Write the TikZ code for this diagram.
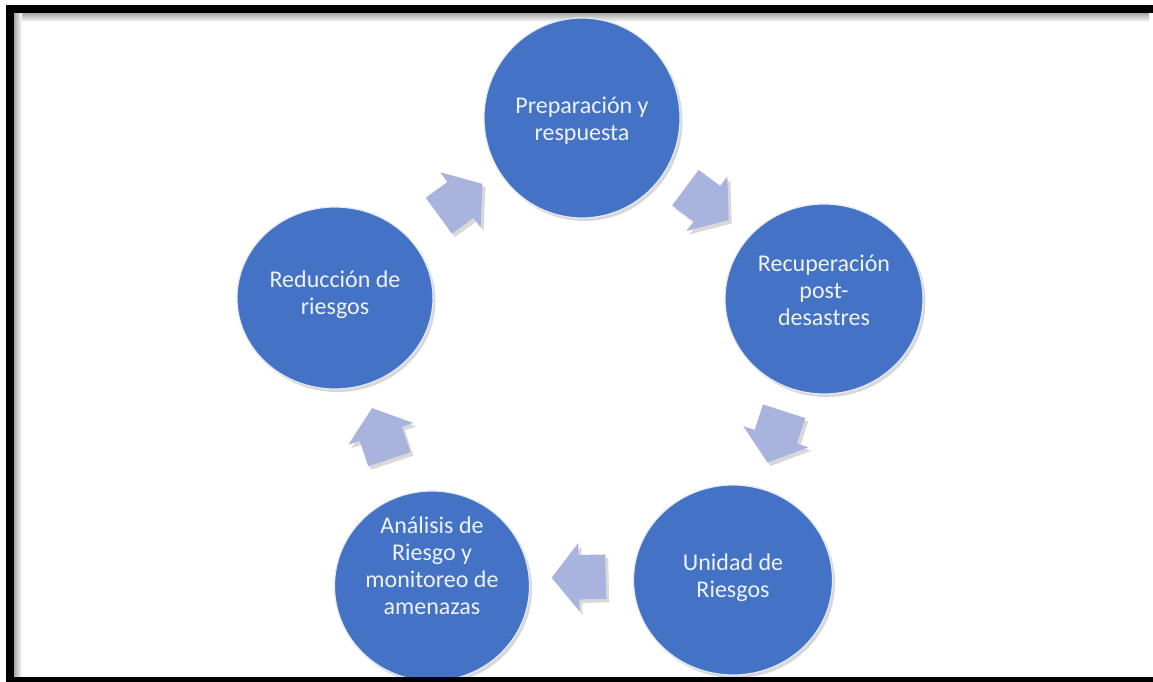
\documentclass[tikz,border=0pt]{standalone}
\usepackage{fontspec}
\setmainfont{Carlito}
\usetikzlibrary{shapes.geometric,shapes.arrows,shadows,calc}
\definecolor{circblue}{RGB}{68,114,196}
\definecolor{arrowfill}{RGB}{168,180,222}
\definecolor{txtcol}{RGB}{238,243,250}
\begin{document}
\begin{tikzpicture}[x=1pt,y=-1pt,
  circ/.style={ellipse, fill=circblue, draw=white!85!circblue, line width=1.2pt, inner sep=0pt,
    drop shadow={shadow xshift=2.5pt, shadow yshift=-3pt, opacity=0.3}},
  txt/.style={text=txtcol, font=\fontsize{24}{27}\selectfont, align=center},
  barrow/.style={single arrow, fill=arrowfill, draw=none, minimum height=54pt,
    single arrow head extend=12pt, single arrow tip angle=103,
    inner xsep=0pt, inner ysep=22pt,
    sloped, allow upside down,
    drop shadow={shadow xshift=3pt, shadow yshift=-3.5pt, opacity=0.3}}]
\useasboundingbox (0,0) rectangle (1153,682);
\fill[white] (0,0) rectangle (1153,682);
% inset shadow of the frame
\shade[top color=black!35, bottom color=white] (14,13) rectangle (1149,22);
\shade[left color=black!35, right color=white] (14,13) rectangle (22,677);
% circles
\node[circ, minimum width=196, minimum height=200,
  label={[txt, yshift=-3pt]center:{Preparación y\\respuesta}}] (P) at (582,118) {};
\node[circ, minimum width=198, minimum height=190,
  label={[txt, yshift=9pt]center:{Recuperación\\post-\\desastres}}] (R) at (824,299) {};
\node[circ, minimum width=199, minimum height=190,
  label={[txt, yshift=2pt]center:{Unidad de\\Riesgos}}] (U) at (733,580) {};
\node[circ, minimum width=195, minimum height=190,
  label={[txt, yshift=20pt]center:{Análisis de\\Riesgo y\\monitoreo de\\amenazas}}] (A) at (432,586) {};
\node[circ, minimum width=196, minimum height=182,
  label={[txt, yshift=3pt]center:{Reducción de\\riesgos}}] (L) at (335,298) {};
% block arrows of the cycle
\path ([shift={(-3,-10)}]P.center) -- node[barrow] (a1) {} ([shift={(-3,-10)}]R.center);
\path ([shift={(0,-11)}]R.center) -- node[barrow] (a2) {} ([shift={(0,-11)}]U.center);
\path ([shift={(5,-6)}]U.center) -- node[barrow] (a3) {} ([shift={(5,-6)}]A.center);
\path (A.center) -- node[barrow] (a4) {} (L.center);
\path ([shift={(-5,-3)}]L.center) -- node[barrow] (a5) {} ([shift={(-5,-3)}]P.center);
% frame
\draw[line width=8pt] (10,9) rectangle (1157,681);
\end{tikzpicture}
\end{document}
